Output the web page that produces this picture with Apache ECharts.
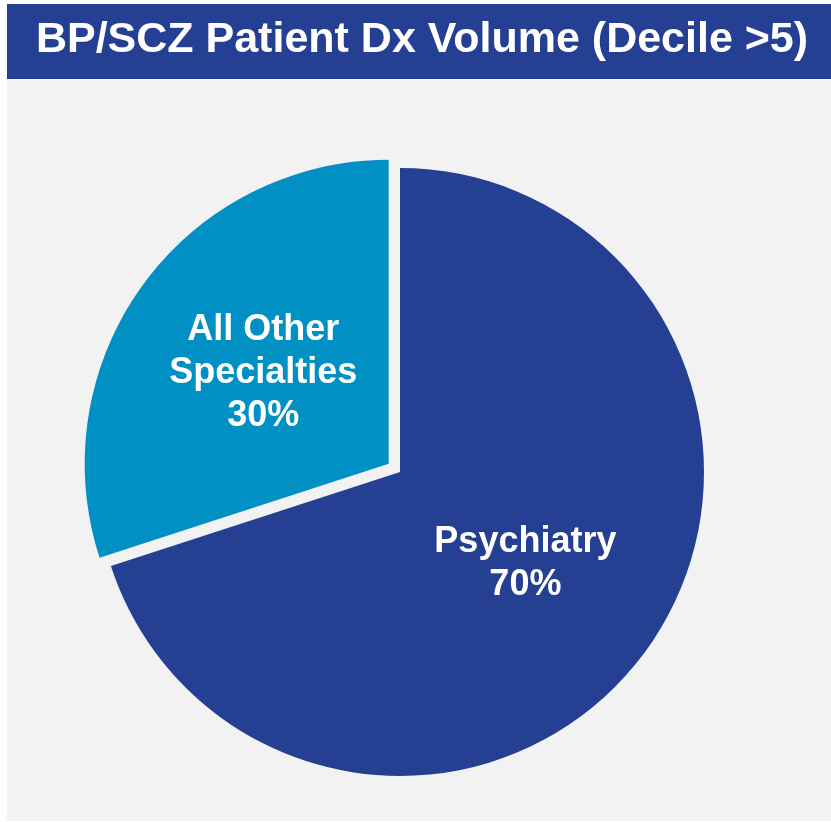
<!DOCTYPE html>
<html>
<head>
<meta charset="utf-8">
<script src="https://cdn.jsdelivr.net/npm/echarts@6/dist/echarts.min.js"></script>
<style>
  html, body { margin: 0; padding: 0; background: #ffffff; }
  #chart { width: 831px; height: 822px; }
</style>
</head>
<body>
<div id="chart"></div>
<script>
// slices, clockwise from 12 o'clock
const categories = ['Psychiatry', 'All Other\nSpecialties'];
const shares = [70, 30];
const titleText = 'BP/SCZ Patient Dx Volume (Decile >5)';

const chart = echarts.init(document.getElementById('chart'));

chart.setOption({
  animation: false,
  graphic: [
    { type: 'rect', shape: { x: 7, y: 79, width: 824, height: 742 }, style: { fill: '#F2F2F2' }, z: -10 },
    { type: 'rect', shape: { x: 7, y: 4, width: 824, height: 75 }, style: { fill: '#253F92' }, z: -10 }
  ],
  title: {
    text: titleText,
    left: 417,
    top: 14,
    textAlign: 'center',
    textStyle: {
      color: '#ffffff',
      fontFamily: '"Liberation Sans Narrow", "Liberation Sans", Arial, sans-serif',
      fontWeight: 'bold',
      fontSize: 43
    }
  },
  series: [{
    type: 'pie',
    center: [400, 472],
    radius: 304,
    startAngle: 90,
    clockwise: true,
    selectedMode: 'single',
    selectedOffset: 14,
    silent: true,
    label: {
      show: true,
      position: 'inside',
      formatter: p => p.name + '\n' + p.value + '%',
      color: '#ffffff',
      fontFamily: '"Liberation Sans", Arial, sans-serif',
      fontWeight: 'bold',
      fontSize: 36,
      lineHeight: 43
    },
    labelLine: { show: false },
    emphasis: { disabled: true },
    data: categories.map((c, i) => ({
      name: c,
      value: shares[i],
      selected: i === 1,
      itemStyle: { color: i === 0 ? '#253F92' : '#0090C4' }
    }))
  }]
});
</script>
</body>
</html>
